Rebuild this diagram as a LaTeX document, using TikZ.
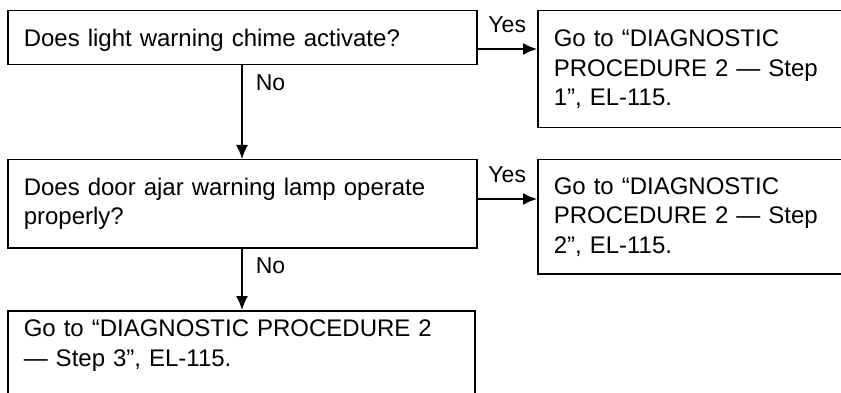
\documentclass[tikz,border=0pt]{standalone}
\usepackage{fontspec}
\setmainfont{Liberation Sans}
\usetikzlibrary{arrows.meta,positioning}
\tikzset{
  ask/.style  ={draw, line width=1.5pt, anchor=north west, align=left,
                inner xsep=16pt, inner ysep=0pt, text width=437pt,
                font=\fontsize{24}{29.5}\selectfont},
  goto/.style ={ask, text width=298pt},
  lbl/.style  ={inner sep=2pt, font=\fontsize{23}{27}\selectfont},
  arrow/.style={-{Latex[length=14pt,width=12pt]}, line width=1.5pt},
}
\begin{document}
\begin{tikzpicture}[x=1pt, y=-1pt]
  \path[use as bounding box, fill=white] (0,0) rectangle (841,393);
  \clip (0,0) rectangle (841,393);
  % questions
  \node[ask, minimum height=54pt, text depth=0pt] (q1) at (7,10) {Does light warning chime activate?};
  \node[ask, minimum height=88pt] (q2) at (7,159) {Does door ajar warning lamp operate\\properly?};
  % where to go
  \node[goto, minimum height=117pt] (g1) at (537,10) {Go to “DIAGNOSTIC\\PROCEDURE 2 — Step\\1”, EL-115.};
  \node[goto, minimum height=114pt] (g2) at (537,159) {Go to “DIAGNOSTIC\\PROCEDURE 2 — Step\\2”, EL-115.};
  \node[ask, text width=435pt, inner ysep=9pt, text depth=80pt] (g3) at (7,310) {Go to “DIAGNOSTIC PROCEDURE 2\\— Step 3”, EL-115.};
  % yes branches
  \draw[arrow] ([yshift=-39pt]q1.north east) -- ([yshift=-39pt]g1.north west)
    node[lbl, midway, above, yshift=14pt] (y1) {Yes};
  \draw[arrow] ([yshift=-40pt]q2.north east) -- ([yshift=-40pt]g2.north west)
    node[lbl, midway, above, yshift=14pt] (y2) {Yes};
  % no branches
  \draw[arrow] ([xshift=235pt]q1.south west) -- ([xshift=235pt]q2.north west)
    node[lbl, pos=0, anchor=north west, xshift=11pt, yshift=-6pt] (n1) {No};
  \draw[arrow] ([xshift=235pt]q2.south west) -- ([xshift=235pt]g3.north west)
    node[lbl, pos=0, anchor=north west, xshift=11pt, yshift=-6pt] (n2) {No};
\end{tikzpicture}
\end{document}
